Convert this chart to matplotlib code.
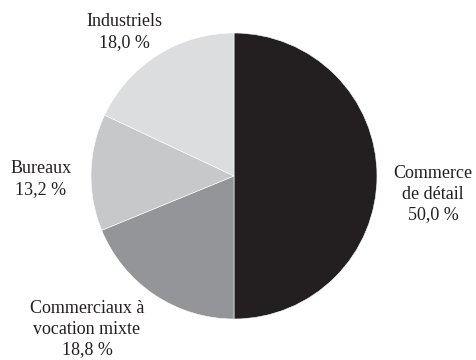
import matplotlib
matplotlib.use("Agg")
import matplotlib.pyplot as plt

# ── Data ─────────────────────────────────────────────────────────────────────
categories = ["Commerce\nde détail", "Commerciaux à\nvocation mixte",
              "Bureaux", "Industriels"]
shares = [50.0, 18.8, 13.2, 18.0]
colors = ["#231f20", "#939598", "#c7c8ca", "#dcdddf"]

# label anchor points (in pie radius units, pie centred at 0,0)
label_pos = [(1.392, -0.126), (-1.028, -1.070), (-1.350, -0.021), (-0.769, 1.007)]

plt.rcParams["font.family"] = ["Liberation Serif", "DejaVu Serif"]

W, H, DPI = 476, 360, 100
CX, CY, R = 234, 176, 143  # pie centre / radius in pixels (y from top)

fig = plt.figure(figsize=(W / DPI, H / DPI), dpi=DPI)
ax = fig.add_axes([0, 0, 1, 1])
ax.pie(shares, colors=colors, startangle=90, counterclock=False, radius=1,
       wedgeprops=dict(edgecolor="white", linewidth=0.4))

for name, val, (x, y) in zip(categories, shares, label_pos):
    txt = f"{name}\n{val:.1f} %".replace(".", ",")
    ax.text(x, y, txt, ha="center", va="center", fontsize=13,
            color="#231f20", linespacing=1.3)

ax.set_xlim(-CX / R, (W - CX) / R)
ax.set_ylim(-(H - CY) / R, CY / R)
ax.set_aspect("auto")
ax.axis("off")

fig.savefig("out.png", dpi=DPI)
